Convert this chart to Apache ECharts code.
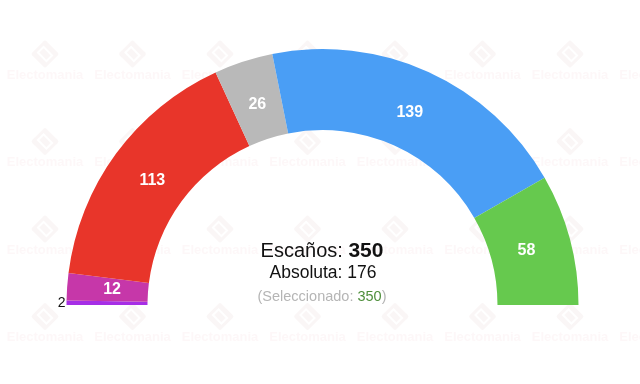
<!DOCTYPE html>
<html>
<head>
<meta charset="utf-8">
<style>html,body{margin:0;padding:0;background:#fff}#c{width:640px;height:384px}</style>
<script src="https://cdn.jsdelivr.net/npm/echarts@6/dist/echarts.min.js"></script>
</head>
<body>
<div id="c"></div>
<script>
// Data
const parties = ['P1', 'P2', 'P3', 'P4', 'P5', 'P6'];
const seats = [2, 12, 113, 26, 139, 58];
const colors = ['#A62EE6', '#C637A9', '#E8352A', '#B9B9B9', '#4A9EF5', '#66C94E'];
const totalSeats = 350;
const majority = 176;
const selected = 350;
const watermarkText = 'Electomania';

const chart = echarts.init(document.getElementById('c'), null, {renderer: 'canvas'});

// Watermark grid
const wm = [];
const colX = [45, 132.5, 220, 307.5, 395, 482.5, 570, 657.5];
const rowY = [75, 162.5, 250, 337.5, 425];
const wmColor = 'rgba(225,150,160,0.08)';
const wmLogo = 'rgba(200,150,160,0.09)';
rowY.forEach(y => colX.forEach(x => {
  wm.push({
    type: 'group', x: x, y: y, z: -10, silent: true,
    children: [
      {type: 'rect', x: 0, y: -21, rotation: Math.PI / 4,
       shape: {x: -10, y: -10, width: 20, height: 20, r: 2},
       style: {fill: wmLogo}},
      {type: 'rect', x: 0, y: -21, rotation: Math.PI / 4,
       shape: {x: -4, y: -6, width: 8, height: 12},
       style: {fill: 'none', stroke: '#fff', lineWidth: 2}},
      {type: 'text', x: 0, y: 0,
       style: {text: watermarkText, fill: wmColor, font: 'bold 13px "Liberation Sans", Arial, sans-serif',
               textAlign: 'center', textVerticalAlign: 'middle'}}
    ]
  });
}));

const centerTexts = [
  {type: 'text', x: 322, y: 251, z: 10,
   style: {text: '{a|Escaños: }{b|' + totalSeats + '}', textAlign: 'center', textVerticalAlign: 'middle',
     rich: {a: {fontSize: 20, fontFamily: '"Liberation Sans", Arial, sans-serif', fill: '#111'},
            b: {fontSize: 21, fontWeight: 'bold', fontFamily: '"Liberation Sans", Arial, sans-serif', fill: '#111'}}}},
  {type: 'text', x: 323, y: 273, z: 10,
   style: {text: 'Absoluta: ' + majority, textAlign: 'center', textVerticalAlign: 'middle',
     font: '17.5px "Liberation Sans", Arial, sans-serif', fill: '#111'}},
  {type: 'text', x: 322, y: 297, z: 10,
   style: {text: '{a|(Seleccionado: }{b|' + selected + '}{a|)}', textAlign: 'center', textVerticalAlign: 'middle',
     rich: {a: {fontSize: 14.5, fontFamily: '"Liberation Sans", Arial, sans-serif', fill: '#b5b5b5'},
            b: {fontSize: 14.5, fontFamily: '"Liberation Sans", Arial, sans-serif', fill: '#4f8f3c'}}}}
];

const arcData = seats.map((v, i) => ({name: parties[i], value: v, itemStyle: {color: colors[i]}}));

const labelData = seats.map((v, i) => {
  const d = {name: parties[i], value: v};
  if (i === 0) {
    d.label = {position: 'outside', color: '#111', fontWeight: 'normal', fontSize: 14, distanceToLabelLine: 0};
    d.labelLine = {show: false, length: 5, length2: 0};
  }
  return d;
});

chart.setOption({
  animation: false,
  graphic: wm.concat(centerTexts),
  series: [{
    type: 'pie',
    center: [322.5, 305],
    radius: [175, 256],
    startAngle: 180,
    endAngle: 0,
    clockwise: true,
    silent: true,
    itemStyle: {borderWidth: 0},
    label: {show: false},
    labelLine: {show: false},
    emphasis: {disabled: true},
    data: arcData
  }, {
    type: 'pie',
    center: [322.5, 305],
    radius: [164, 252],
    startAngle: 180,
    endAngle: 0,
    clockwise: true,
    silent: true,
    z: 3,
    avoidLabelOverlap: false,
    itemStyle: {color: 'rgba(0,0,0,0)', borderWidth: 0},
    label: {
      show: true, position: 'inside', formatter: '{c}',
      color: '#fff', fontWeight: 'bold', fontSize: 16,
      fontFamily: '"Liberation Sans", Arial, sans-serif'
    },
    labelLine: {show: false},
    emphasis: {disabled: true},
    data: labelData
  }]
});
</script>
</body>
</html>
